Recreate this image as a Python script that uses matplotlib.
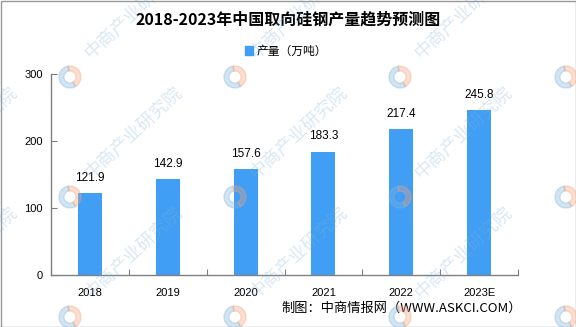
"""中国取向硅钢产量柱状图."""

import matplotlib
matplotlib.use("Agg")

import matplotlib.pyplot as plt
from matplotlib.patches import Patch, Rectangle, Wedge

plt.rcParams["font.family"] = ["Noto Sans CJK SC", "DejaVu Sans"]

years = ["2018", "2019", "2020", "2021", "2022", "2023E"]
output = [121.9, 142.9, 157.6, 183.3, 217.4, 245.8]
yticks = [0, 100, 200, 300]

BAR = "#409ef4"
AXIS = "#808080"
NUM_FONT = "Liberation Sans"
MARK_BLUE = "#7fb3dc"
MARK_ORANGE = "#f3a27c"

fig = plt.figure(figsize=(5.76, 3.27), dpi=100)
W, H = 576, 327
ax = fig.add_axes([51 / W, 1 - 275 / H, (518 - 51) / W, (275 - 74) / H])

x = range(len(years))
ax.bar(x, output, width=0.31, color=BAR, zorder=2)
ax.set_xlim(-0.5, len(years) - 0.5)
ax.set_ylim(0, 300)

for xi, v in zip(x, output):
    ax.annotate(f"{v:.1f}", (xi, v), xytext=(0, 7), textcoords="offset points",
                ha="center", va="bottom", fontsize=8.5, family=NUM_FONT)

# 坐标轴
for s in ("top", "right"):
    ax.spines[s].set_visible(False)
for s in ("left", "bottom"):
    ax.spines[s].set_color(AXIS)
    ax.spines[s].set_linewidth(1)

ax.set_yticks(yticks)
ax.set_yticklabels([str(t) for t in yticks], family=NUM_FONT, fontsize=8)
ax.set_xticks([i - 0.5 for i in range(len(years) + 1)])
ax.set_xticklabels([])
ax.set_xticks(list(x), minor=True)
ax.set_xticklabels(years, minor=True, family=NUM_FONT, fontsize=8)
ax.tick_params(axis="x", which="major", direction="in", length=4, color=AXIS)
ax.tick_params(axis="x", which="minor", length=0, pad=9)
ax.tick_params(axis="y", direction="in", length=4, color=AXIS, pad=6)

# 标题与图例
fig.text(288 / W, 1 - 20 / H, "2018-2023年中国取向硅钢产量趋势预测图",
         ha="center", va="center", fontsize=11.5, fontweight="bold")
fig.legend(handles=[Patch(color=BAR, label="产量（万吨）")], loc="center",
           bbox_to_anchor=(286 / W, 1 - 51 / H), frameon=False, fontsize=8.5,
           handlelength=0.7, handleheight=0.7, handletextpad=0.3)

fig.text(522 / W, 1 - 308 / H, "制图：中商情报网（WWW.ASKCI.COM）",
         ha="right", va="center", fontsize=9.5)

# 水印
for lx in (-95, 70, 235, 400, 566):
    for ly in (77, 197, 317):
        fig.text((lx + 64) / W, 1 - (ly - 64) / H, "中商产业研究院",
                 ha="center", va="center", rotation=43, fontsize=13,
                 color=MARK_BLUE, alpha=0.3, zorder=5)
        fig.patches.append(Wedge((lx, H - ly), 11, 100, 300, width=5,
                                 transform=None, color=MARK_BLUE, alpha=0.35, zorder=5))
        fig.patches.append(Wedge((lx, H - ly), 11, -60, 100, width=5,
                                 transform=None, color=MARK_ORANGE, alpha=0.35, zorder=5))

# 外框
fig.patches.append(Rectangle((0.5, 0.5), W - 1, H - 1, transform=None,
                             fill=False, edgecolor="#999999", linewidth=1))

fig.savefig("out.png", dpi=100)
